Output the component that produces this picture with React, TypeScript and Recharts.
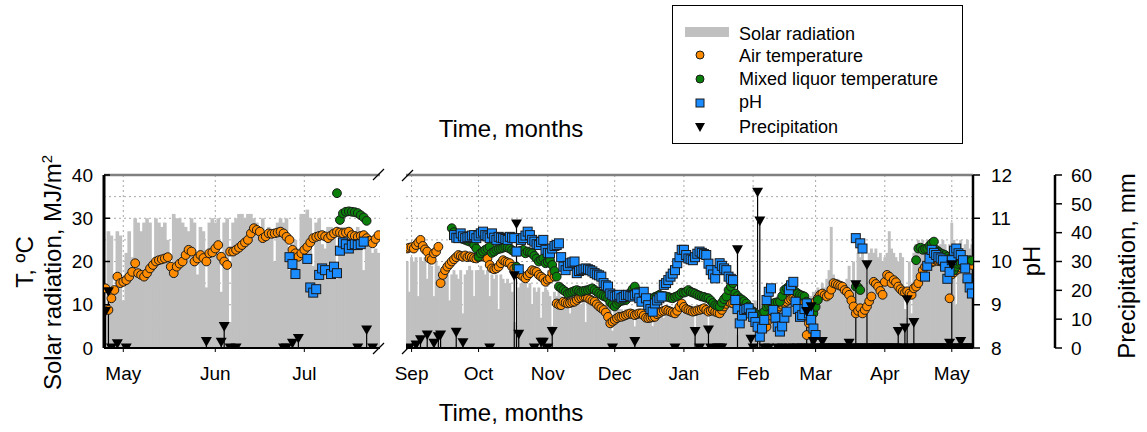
import React from 'react';
import {
  ComposedChart,
  Bar,
  Scatter,
  XAxis,
  YAxis,
  CartesianGrid,
  ReferenceLine,
  ErrorBar,
} from 'recharts';

const FONT = "'Liberation Sans', Arial, Helvetica, sans-serif";
const ORANGE = '#ff8c00';
const GREEN = '#0a800a';
const BLUE = '#1a8cff';
const GRAY = '#c0c0c0';
const EDGE = '#1a1a1a';

// ---------- LEFT PANEL (day 0 = 1 May) ----------
const leftMonthDays = [0, 31, 61];
const leftMonthLabels = ['May', 'Jun', 'Jul'];

const leftSolarStart = -6;
const leftSolar = [
  8, 27, 26, 12, 27, 26, 11, 22, 27, 21,
  30, 29, 27, 29, 30, 29, 18, 30, 29, 28,
  29, 25, 19, 31, 30, 30, 29, 28, 27, 30,
  29, 17, 28, 27, 14, 29, 30, 29, 30, 13,
  29, 30, 6, 29, 30, 31, 31, 30, 31, 31,
  30, 29, 28, 30, 27, 28, 27, 20, 29, 30,
  29, 30, 18, 24, 25, 23, 31, 31, 32, 30,
  19, 29, 30, 24, 23, 28, 28, 27, 16, 27,
  28, 26, 27, 25, 26, 28, 27, 18, 26, 25,
  22, 23, 22,
];

const leftAirStart = -6;
const leftAir = [
  13.8, 8.8, 11.5, 13.4, 16.5, 15, 15.3, 15.7, 16.5, 17.6,
  19.6, 17.3, 16.9, 16.5, 17.3, 18.4, 19.2, 20, 20.3, 20.5,
  20.7, 21, 18.8, 17.3, 18.8, 19.5, 20, 21.5, 22.7, 22.3,
  20, 20.7, 21.5, 20.8, 20, 21.9, 22.1, 23, 23.8, 21.1,
  20, 19.2, 22.3, 22.3, 22.7, 23.2, 23.8, 24.4, 25, 26.5,
  27.7, 27.3, 26.9, 25.4, 25.8, 26.5, 26.4, 26.5, 26.7, 26.9,
  26.5, 25.7, 25, 22.7, 21.9, 21.1, 21.9, 22.7, 23.4, 24.4,
  25.4, 25.7, 25.9, 26.1, 25.8, 25.4, 26, 26.5, 26.9, 26.7,
  26.5, 26.7, 26.9, 26.1, 25.9, 25.7, 25.9, 26.1, 25.4, 24.8,
  24.2, 25.2, 26.1,
];

const leftMixedStart = 72;
const leftMixed = [35.8, 29.6, 31.1, 31.5, 31.6, 31.5, 31.4, 31.2, 30.7, 30.2, 29.4];

const leftPH: [number, number][] = [
  [56, 10.1], [57, 9.94], [58, 9.71], [62, 10.06], [63, 9.4], [64, 9.28], [65, 9.36],
  [66, 9.69], [67, 9.84], [68, 9.8], [70, 9.71], [71, 9.88], [72, 9.73], [73, 10.25],
  [74, 10.44], [75, 10.4], [76, 10.3], [77, 10.38], [78, 10.4], [79, 10.38], [80, 10.4], [81, 10.46],
];

const leftPrecip: [number, number][] = [
  [-6, 12.6], [-5, 19.5], [-4, 0], [-2, 1.4], [1, 0], [28, 2.2], [33, 2], [34, 7.4], [36, 0],
  [38, 0], [54, 0], [55, 0], [57, 1.6], [59, 3.3], [79, 0], [82, 6.2], [84, 0],
];

// ---------- RIGHT PANEL (day 0 = 1 Sep) ----------
const rightMonthDays = [0, 30, 61, 91, 122, 153, 181, 212, 242];
const rightMonthLabels = ['Sep', 'Oct', 'Nov', 'Dec', 'Jan', 'Feb', 'Mar', 'Apr', 'May'];

const rightSolarStart = -2;
const rightSolar = [
  // Sep
  20, 13, 21, 20, 21, 12, 21, 20, 21, 16,
  20, 19, 12, 20, 19, 14, 18, 17, 18, 11,
  17, 18, 17, 16, 18, 8, 17, 18, 19, 18,
  12, 18,
  // Oct
  18, 19, 18, 17, 18, 12, 17, 16, 17, 9,
  17, 16, 15, 16, 15, 13, 6, 4, 14, 15,
  16, 15, 14, 15, 10, 14, 13, 14, 7, 13,
  14,
  // Nov
  13, 12, 5, 13, 12, 13, 12, 11, 12, 11,
  8, 12, 11, 12, 11, 10, 11, 6, 11, 10,
  11, 10, 9, 10, 10, 9, 10, 9, 10, 4,
  // Dec
  9, 10, 9, 9, 8, 9, 9, 8, 9, 5,
  9, 8, 9, 8, 8, 9, 8, 5, 8, 8,
  9, 8, 7, 8, 9, 8, 8, 7, 8, 9,
  8,
  // Jan
  9, 8, 9, 9, 8, 4, 9, 8, 9, 10,
  9, 5, 9, 10, 9, 10, 9, 10, 11, 10,
  9, 10, 11, 10, 3, 9, 10, 11, 10, 11,
  6,
  // Feb
  10, 11, 4, 3, 10, 11, 10, 11, 12, 11,
  10, 12, 11, 12, 11, 12, 13, 12, 11, 12,
  13, 12, 11, 12, 5, 6, 12, 13,
  // Mar
  13, 14, 12, 15, 14, 16, 18, 28, 17, 15,
  16, 14, 15, 13, 16, 19, 14, 20, 9, 22,
  21, 23, 20, 8, 22, 23, 22, 23, 21, 22,
  20,
  // Apr
  21, 22, 27, 23, 22, 21, 20, 22, 21, 9,
  7, 20, 8, 22, 24, 25, 24, 25, 24, 25,
  24, 25, 24, 25, 23, 24, 25, 24, 20, 24,
  // May
  29, 25, 10, 24, 25, 16, 24, 25, 23, 24,
];

const rightAirStart = -2;
const rightAir = [
  23, 23.2, 23.3, 23, 23.8, 24.4, 25, 23.6, 22.8, 22.3,
  20.7, 20.4, 21.9, 22.3, 23.4, 15, 16.9, 18, 18.8, 19.4,
  20, 20.5, 21, 21.5, 21.3, 21.1, 21.4, 21, 21.2, 21,
  20.8, 20.7, 21, 21.3, 21.5, 21, 20.7, 19.2, 18.4, 18.2,
  18.4, 18.8, 19.6, 20.3, 20, 19.8, 19.6, 18.8, 18.4, 18,
  17.3, 16.9, 16.5, 16.1, 16.8, 17.3, 18, 17.8, 17.6, 16.9,
  16.5, 16.1, 15.3, 15.8, 16.1, 17.3, 16.5, 10.3, 10, 9.9,
  10.7, 10.5, 10.3, 10.4, 10.6, 10.7, 11.1, 11.5, 11.7, 11.9,
  11.8, 11.5, 11.2, 10.9, 10.7, 10.1, 9.6, 9.2, 8.8, 8.2,
  7.2, 5.7, 6.1, 6.5, 6.9, 7.2, 7.2, 7.4, 7.6, 7.8,
  8, 7.8, 7.6, 7.8, 8, 8, 7.5, 7, 6.9, 7,
  7.1, 7.2, 7.8, 8.1, 8.4, 8.6, 8.8, 8.6, 8.4, 8.2,
  8, 8.6, 9.5, 10.3, 9.5, 9, 8.8, 8.6, 8.4, 8.5,
  8.7, 8.8, 9, 9.2, 8.8, 8.4, 8.6, 8.8, 8.4, 8.2,
  8, 8.8, 9.6, 10.2, 10.7, 10.5, 10.3, 11.9, 11.5, 11.1,
  10.6, 10.2, 9.9, 9.3, 8.8, 8.4, 8, 7.6, 7.2, 6,
  5.5, 4.9, 6.5, 7.5, 8.3, 8.8, 9.2, 9.6, 10, 10.4,
  10.7, 11.1, 11.3, 11.5, 11.3, 11.2, 11.1, 10.9, 10.7, 3,
  5.7, 7.5, 8.8, 10.7, 11.5, 12.3, 12.6, 12.2, 11.9, 12.3,
  13.5, 15, 14.8, 14.6, 14.4, 14.2, 13.4, 13, 12.3, 11,
  9.6, 8, 8.6, 9.2, 8, 8.8, 9.6, 10.8, 11.9, 15.3,
  14.8, 14.2, 13.2, 12.3, 15.3, 16.9, 16.5, 15, 15.7, 15.2,
  14.2, 13.6, 13.1, 12.8, 13.1, 12.6, 12.3, 13.8, 14.2, 15,
  16.5, 18, 18.8, 19.2, 19.6, 19.8, 20, 20.3, 20.1, 20,
  19.8, 19.6, 19.2, 11.5, 17, 17.5, 18, 18.3, 18.6, 19,
  19.2, 19.4, 19.6, 19.2,
];

const rightMixedAStart = 18;
const rightMixedA = [
  27.7, 26.8, 26.1, 25.8, 25.4, 25.2, 25, 24.8, 24.6, 24.6,
  23.8, 23, 21.1, 21.9, 22.3, 22.7, 23, 23.4, 22, 22.3,
  22.7, 22.9, 23, 23.2, 23.4, 23.2, 23, 22.6, 22.3, 18.8,
  22.3, 22.5, 22.7, 21.9, 22.3, 22.1, 21.9, 21.3, 20.7, 20,
  20.4, 20.7, 19.6, 19.9, 20.3, 19.2, 17.8, 16.5, 14.2, 13.8,
  13.4, 13, 12.6, 12.8, 13, 13.2, 13.4, 13.2, 13, 13.2,
  13.3, 13.4, 13.6, 13.8, 13.4, 13, 12.6, 12.3, 12, 11.8,
  11.5, 10.5, 10, 9.6, 10.2, 10.7, 10.9, 11, 11.1, 12,
  12.8, 13.6, 14.2, 12.9, 11.9, 11.5, 11.2, 11.1, 11.3, 11.4,
  11.5, 11.8, 12, 12.3, 12.1, 12, 11.9, 11.8, 11.6, 11.5,
  11.8, 12, 12.3, 12.8, 12.8, 13, 13.4, 13, 12.8, 12.6,
  12.3, 12.1, 11.9, 11.8, 11.6, 11.5, 11, 10.4, 9.9, 9.7,
  9.6, 10.5, 11.3, 11.9, 13.4, 14.2, 15, 12.6, 12, 11.5,
  11.2, 10.8, 10.3, 9.6, 8.8, 8.4, 8, 7.6, 7.4, 7.2,
  8.4, 9.6, 9.9, 10.1, 10.3, 10.5, 10.6, 10.7, 12, 13.4,
  13.8, 14.2, 13.8, 13.4, 13, 12.6, 12.3, 12.1, 11.9, 10.7,
  9, 7.2, 8, 9.5, 11.1,
];
const rightMixedBStart = 199;
const rightMixedB = [14.2, 14, 13.4];
const rightMixedCStart = 226;
const rightMixedC = [
  20.3, 23, 23.2, 22.7, 22.9, 23, 23.6, 24.2, 24.6, 22.7,
  22.3, 21.9, 21.7, 21.5, 21.1, 20.7, 20.2, 18, 18.8, 19.4,
  19.6, 19.8, 20, 20.2, 20.3, 20.2,
];

const rightPHAStart = 19;
const rightPHA = [
  10.61, 10.55, 10.54, 10.65, 10.58, 10.54, 10.56, 10.57, 10.6, 10.61,
  10.54, 10.6, 10.65, 10.69, 10.61, 10.58, 10.54, 10.65, 10.55, 10.5,
  10.57, 10.55, 10.54, 10.52, 10.5, 10.57, 10.55, 10.54, 10.23, 9.82,
  10.5, 10.54, 10.6, 10.69, 10.61, 10.5, 10.46, 10.4, 10.38, 10.45,
  10.5, 10.27, 10.2, 10.19, 10.3, 10.36, 10.38, 10.42, 10.1, 9.88,
  9.8, 9.9, 9.96, 9.98, 10, 9.73, 9.78, 9.8, 9.82, 9.84,
  9.82, 9.8, 9.77, 9.73, 9.7, 9.68, 9.65, 9.5, 9.45, 9.42,
  9.26, 9.22, 9.19, 9.21, 9.23, 9.15, 9.18, 9.22, 9.23, 9.2,
  9.19, 9.22, 9.26, 9.15, 9.07, 9.3, 9.15, 8.99, 8.9, 8.84,
  9.03, 9.1, 9.15, 9.19, 9.46, 9.5, 9.57, 9.65, 9.72, 9.8,
  9.96, 10.1, 10.27, 10.27, 10.15, 10.07, 10.05, 10.03, 10.1, 10.18,
  10.23, 10.2, 10.17, 10.15, 9.95, 9.8, 9.7, 9.61, 9.8, 9.96,
  9.9, 9.84, 9.8, 9.65, 9.6, 9.57, 9.11, 8.9, 8.57, 8.75,
  8.88, 8.9, 8.92, 8.8, 8.72, 8.6, 8.49, 8.26, 8.45, 8.65,
  9.11, 9.3, 9.38, 8.88, 8.7, 8.49, 8.38, 8.5, 8.7, 8.84,
  9.34, 9.45, 9.53, 9.07, 8.9, 8.72, 8.76, 8.9, 9.03, 8.8,
  8.65, 8.45, 8.3,
];
const rightPHB: [number, number][] = [[199, 10.54], [201, 10.42], [202, 10.3]];
const rightPHCStart = 230;
const rightPHC = [
  9.65, 9.9, 10.07, 10.27, 10.2, 10.15, 10.1, 10.07, 10.03, 9.88,
  9.6, 9.76, 10.03, 10.25, 10.3, 10.19, 10.15, 10.03, 9.84, 9.61,
  9.4, 9.26,
];

const rightPrecipEvents: [number, number][] = [
  [-1, 0], [2, 1], [4, 2.8], [7, 4.5], [10, 1.6], [12, 3.9], [13, 4.5], [20, 5.4], [23, 1.8],
  [35, 0], [46, 25], [47, 43], [48, 4.7], [55, 0], [58, 2], [59, 2], [61, 0], [63, 5.7],
  [90, 0], [100, 2.2], [118, 0], [127, 5.7], [129, 0], [133, 6.2], [134, 0], [137, 0],
  [138, 0], [139, 0], [146, 34], [152, 3], [153, 0], [155, 54], [156, 44], [158, 0],
  [160, 0], [164, 0], [166, 0], [169, 0], [171, 0], [173, 0], [175, 0], [176, 0],
  [177, 12.6], [178, 0], [179, 14.3], [180, 2.2],
];
const rightPrecipDailyStart = 181;
const rightPrecipDaily = [
  0, 0, 0, 2.2, 0, 0, 0, 0, 0, 0,
  0, 0, 0, 0, 0, 1.6, 0, 0, 21.9, 0,
  0, 0, 0, 28.8, 0, 0, 0, 0, 0, 0,
  0, 0, 0, 0, 0, 0, 0, 5.7, 0, 0,
  6.9, 16.7, 0, 0, 8.8, 0, 0, 0, 0, 0,
  0, 0, 0, 0, 0, 0, 0, 0, 0, 0,
  1.6, 28.8, 0, 0, 0, 2.2, 0, 0, 0, 0,
  0,
];

const tTicks = [0, 10, 20, 30, 40];
const tGrid = [5, 10, 15, 20, 25, 30, 35];
const phTicks = [8, 9, 10, 11, 12];
const pTicks = [0, 10, 20, 30, 40, 50, 60];

// ---------- helpers ----------
type Pt = { day: number; v: number };
const seq = (start: number, vals: number[]): Pt[] => vals.map((v, i) => ({ day: start + i, v }));
const pairs = (p: [number, number][]): Pt[] => p.map(([day, v]) => ({ day, v }));
const barRows = (start: number, vals: number[]) => vals.map((solar, i) => ({ day: start + i, solar }));

const CircleShape = (fill: string) => (p: any) =>
  p.cx == null ? <g /> : <circle cx={p.cx} cy={p.cy} r={4.4} fill={fill} stroke={EDGE} strokeWidth={1} />;
const SquareShape = (p: any) =>
  p.cx == null ? <g /> : (
    <rect x={p.cx - 4.5} y={p.cy - 4.5} width={9} height={9} fill={BLUE} stroke={EDGE} strokeWidth={1} />
  );
const TriShape = (p: any) =>
  p.cx == null ? <g /> : (
    <path d={`M${p.cx - 5.5},${p.cy - 4.6}L${p.cx + 5.5},${p.cy - 4.6}L${p.cx},${p.cy + 5}Z`} fill="#000" />
  );
// solar bar drawn a hair wider so neighbouring days join without seams
const SolarShape = (p: any) =>
  p.x == null || !p.height ? <g /> : (
    <rect x={p.x - 0.35} y={p.y} width={p.width + 0.7} height={p.height} fill={GRAY} />
  );

const stemKey = (d: any) => {
  const v = d && d.payload && d.payload.v != null ? d.payload.v : d && d.v != null ? d.v : 0;
  return [v, 0];
};

const tickStyle = { fill: '#000', fontSize: 19, fontFamily: FONT };

type PanelProps = {
  side: 'left' | 'right';
  bars: { day: number; solar: number }[];
  domain: [number, number];
  months: number[];
  labels: string[];
  air: Pt[];
  mixed: Pt[];
  ph: Pt[];
  precip: Pt[];
  barSize: number;
};

function Panel(props: PanelProps) {
  const { side, bars, domain, months, labels, air, mixed, ph, precip, barSize } = props;
  const isLeft = side === 'left';
  const width = isLeft ? 400 : 761;
  const margin = isLeft
    ? { top: 175, right: 20, bottom: 54, left: 0 }
    : { top: 175, right: 32, bottom: 54, left: 20 };
  const fmt = (v: number) => {
    const i = months.indexOf(v);
    return i >= 0 ? labels[i] : '';
  };
  return (
    <ComposedChart width={width} height={432} data={bars} margin={margin} barGap={0} barCategoryGap={0}>
      <CartesianGrid
        xAxisId="x"
        yAxisId="t"
        horizontalValues={tGrid}
        verticalValues={months}
        stroke="#a8a8a8"
        strokeDasharray="2 3"
      />
      <XAxis
        xAxisId="x"
        dataKey="day"
        type="number"
        domain={domain}
        allowDataOverflow
        ticks={months}
        interval={0}
        tickFormatter={fmt}
        height={30}
        axisLine={{ stroke: '#000', strokeWidth: 2 }}
        tickLine={{ stroke: '#000', strokeWidth: 1 }}
        tickSize={4}
        tickMargin={15}
        tick={tickStyle}
      />
      <YAxis
        yAxisId="t"
        domain={[0, 40]}
        ticks={tTicks}
        interval={0}
        allowDataOverflow
        hide={!isLeft}
        width={104}
        axisLine={{ stroke: '#000', strokeWidth: 3 }}
        tickLine={{ stroke: '#000', strokeWidth: 1.5 }}
        tickSize={-6}
        tickMargin={17}
        tick={tickStyle}
      />
      <YAxis
        yAxisId="zp"
        orientation="right"
        domain={[0, 60]}
        ticks={pTicks}
        interval={0}
        allowDataOverflow
        hide={isLeft}
        width={60}
        axisLine={{ stroke: '#000', strokeWidth: 2.5 }}
        tickLine={{ stroke: '#000', strokeWidth: 1.5 }}
        tickSize={7}
        tickMargin={9}
        tick={tickStyle}
      />
      <YAxis
        yAxisId="aph"
        orientation="right"
        domain={[8, 12]}
        ticks={phTicks}
        interval={0}
        allowDataOverflow
        hide={isLeft}
        width={82}
        axisLine={{ stroke: '#000', strokeWidth: 2.5 }}
        tickLine={{ stroke: '#000', strokeWidth: 1.5 }}
        tickSize={7}
        tickMargin={11}
        tick={tickStyle}
      />
      <ReferenceLine xAxisId="x" yAxisId="t" y={40} stroke="#808080" strokeWidth={2.5} />
      <Bar
        xAxisId="x"
        yAxisId="t"
        dataKey="solar"
        fill={GRAY}
        barSize={barSize}
        shape={SolarShape}
        isAnimationActive={false}
      />
      <Scatter xAxisId="x" yAxisId="t" data={air} dataKey="v" shape={CircleShape(ORANGE)} isAnimationActive={false} />
      <Scatter xAxisId="x" yAxisId="t" data={mixed} dataKey="v" shape={CircleShape(GREEN)} isAnimationActive={false} />
      <Scatter xAxisId="x" yAxisId="aph" data={ph} dataKey="v" shape={SquareShape} isAnimationActive={false} />
      <Scatter xAxisId="x" yAxisId="zp" data={precip} dataKey="v" shape={TriShape} isAnimationActive={false}>
        <ErrorBar dataKey={stemKey} direction="y" width={0} stroke="#000" strokeWidth={1.2} isAnimationActive={false} />
      </Scatter>
    </ComposedChart>
  );
}

const leftData = {
  bars: barRows(leftSolarStart, leftSolar),
  air: seq(leftAirStart, leftAir),
  mixed: seq(leftMixedStart, leftMixed),
  ph: pairs(leftPH),
  precip: pairs(leftPrecip),
};

const rightData = {
  bars: barRows(rightSolarStart, rightSolar),
  air: seq(rightAirStart, rightAir),
  mixed: [
    ...seq(rightMixedAStart, rightMixedA),
    ...seq(rightMixedBStart, rightMixedB),
    ...seq(rightMixedCStart, rightMixedC),
  ],
  ph: [...seq(rightPHAStart, rightPHA), ...pairs(rightPHB), ...seq(rightPHCStart, rightPHC)],
  precip: [...pairs(rightPrecipEvents), ...seq(rightPrecipDailyStart, rightPrecipDaily)],
};

function Overlay() {
  const txt = { fontFamily: FONT, fill: '#000' } as const;
  return (
    <svg
      width={1147}
      height={432}
      style={{ position: 'absolute', left: 0, top: 0, pointerEvents: 'none' }}
    >
      {/* axis titles */}
      <text x={511} y={136.5} textAnchor="middle" fontSize={24} {...txt}>Time, months</text>
      <text x={511} y={421} textAnchor="middle" fontSize={24} {...txt}>Time, months</text>
      <text x={33} y={262} textAnchor="middle" fontSize={24} transform="rotate(-90 33 262)" {...txt}>
        T, ºC
      </text>
      <text x={61} y={390} textAnchor="start" fontSize={24} transform="rotate(-90 61 390)" {...txt}>
        Solar radiation, MJ/m<tspan dy={-9} fontSize={15}>2</tspan>
      </text>
      <text x={1040} y={261} textAnchor="middle" fontSize={24} transform="rotate(-90 1040 261)" {...txt}>
        pH
      </text>
      <text x={1135} y={266} textAnchor="middle" fontSize={24} transform="rotate(-90 1135 266)" {...txt}>
        Precipitation, mm
      </text>

      {/* axis break marks */}
      <g stroke="#000" strokeWidth={1.2}>
        <line x1={373} y1={180} x2={384} y2={169} />
        <line x1={373} y1={354} x2={384} y2={343} />
        <line x1={402} y1={181} x2={413} y2={170} />
        <line x1={402} y1={354} x2={413} y2={343} />
      </g>

      {/* legend */}
      <rect x={672.5} y={5.5} width={290} height={138} fill="#fff" stroke="#000" strokeWidth={1} />
      <rect x={685} y={27} width={44} height={10} fill={GRAY} />
      <text x={739} y={39.5} fontSize={18} {...txt}>Solar radiation</text>
      <circle cx={700} cy={55} r={4} fill={ORANGE} stroke={EDGE} strokeWidth={1} />
      <text x={739} y={61.5} fontSize={18} {...txt}>Air temperature</text>
      <circle cx={700} cy={79} r={4} fill={GREEN} stroke={EDGE} strokeWidth={1} />
      <text x={739} y={84.5} fontSize={18} {...txt}>Mixed liquor temperature</text>
      <rect x={696} y={99} width={8} height={8} fill={BLUE} stroke={EDGE} strokeWidth={1} />
      <text x={739} y={108} fontSize={18} {...txt}>pH</text>
      <path d="M695,123L705,123L700,132Z" fill="#000" />
      <text x={739} y={133} fontSize={18} {...txt}>Precipitation</text>
    </svg>
  );
}

export default function App() {
  return (
    <div
      style={{
        position: 'absolute',
        left: 0,
        top: 0,
        width: 1147,
        height: 432,
        background: '#fff',
        fontFamily: FONT,
        overflow: 'hidden',
      }}
    >
      <div style={{ position: 'absolute', left: 0, top: 0 }}>
        <Panel
          side="left"
          bars={leftData.bars}
          domain={[-6.5, 86.5]}
          months={leftMonthDays}
          labels={leftMonthLabels}
          air={leftData.air}
          mixed={leftData.mixed}
          ph={leftData.ph}
          precip={leftData.precip}
          barSize={2.95}
        />
      </div>
      <div style={{ position: 'absolute', left: 386, top: 0 }}>
        <Panel
          side="right"
          bars={rightData.bars}
          domain={[-2.5, 251.5]}
          months={rightMonthDays}
          labels={rightMonthLabels}
          air={rightData.air}
          mixed={rightData.mixed}
          ph={rightData.ph}
          precip={rightData.precip}
          barSize={2.22}
        />
      </div>
      <Overlay />
    </div>
  );
}
